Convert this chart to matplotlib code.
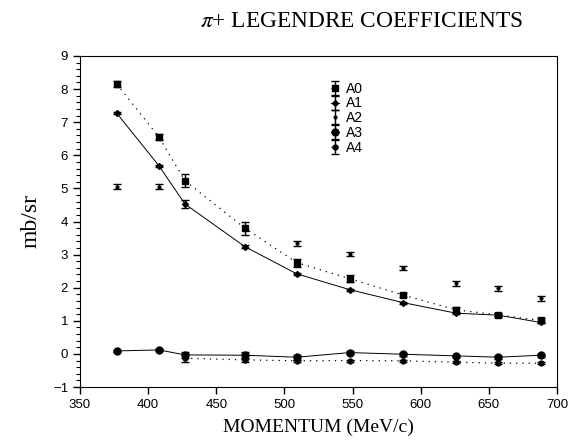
import numpy as np
import matplotlib.pyplot as plt
from matplotlib.ticker import MultipleLocator

# momentum values (MeV/c)
p = [377, 408, 427, 471, 509, 548, 587, 626, 657, 688]
p_a4 = [427, 471, 509, 548, 587, 626, 657, 688]

a0 = [8.15, 6.55, 5.23, 3.80, 2.76, 2.27, 1.78, 1.33, 1.18, 1.01]
a0_err = [0.10, 0.08, 0.20, 0.20, 0.12, 0.10, 0.07, 0.08, 0.06, 0.07]
a1 = [7.27, 5.68, 4.53, 3.24, 2.42, 1.94, 1.55, 1.23, 1.17, 0.95]
a1_err = [0.03, 0.03, 0.12, 0.04, 0.03, 0.03, 0.03, 0.03, 0.03, 0.03]
a2 = [5.05, 5.05, None, None, 3.34, 3.02, 2.60, 2.13, 1.98, 1.68]
a2_err = 0.07
a3 = [0.09, 0.12, -0.03, -0.04, -0.10, 0.04, -0.01, -0.06, -0.10, -0.04]
a3_err = [0.04, 0.04, 0.10, 0.10, 0.08, 0.05, 0.04, 0.04, 0.05, 0.04]
a4 = [-0.13, -0.18, -0.21, -0.20, -0.21, -0.25, -0.28, -0.28]
a4_err = [0.12, 0.06, 0.04, 0.03, 0.03, 0.03, 0.03, 0.03]

fig = plt.figure(figsize=(5.77, 4.43), dpi=100)
ax = fig.add_axes([0.1386, 0.1264, 0.8267, 0.7472])

dots = (0, (1, 4))
k = dict(color='black', ecolor='black', elinewidth=1, capsize=3)
h0 = ax.errorbar(p, a0, yerr=a0_err, fmt='s', ms=5, ls=dots, lw=0.9, **k)
h1 = ax.errorbar(p, a1, yerr=a1_err, fmt='D', ms=3, ls='-', lw=0.7, **k)
p2 = [x for x, y in zip(p, a2) if y is not None]
y2 = [y for y in a2 if y is not None]
h2 = ax.errorbar(p2, y2, yerr=a2_err, fmt='o', ms=2, ls='none', **k)
h3 = ax.errorbar(p, a3, yerr=a3_err, fmt='o', ms=5, ls='-', lw=0.7, **k)
h4 = ax.errorbar(p_a4, a4, yerr=a4_err, fmt='o', ms=3.5, ls=dots, lw=0.9, **k)

leg = ax.legend([h0, h1, h2, h3, h4], ['A0', 'A1', 'A2', 'A3', 'A4'],
                loc='upper left', bbox_to_anchor=(0.5, 0.96), frameon=False,
                handlelength=0.6, handletextpad=0.5, labelspacing=0.05,
                prop={'family': 'Liberation Sans', 'size': 10})

ax.set_xlim(350, 700)
ax.set_ylim(-1, 9)
ax.xaxis.set_major_locator(MultipleLocator(50))
ax.yaxis.set_major_locator(MultipleLocator(1))
ax.yaxis.set_minor_locator(MultipleLocator(0.2))
ax.tick_params(which='major', direction='out', length=5, width=1, labelsize=9.5)
ax.tick_params(which='minor', direction='out', length=3, width=0.8)
for lab in ax.get_xticklabels() + ax.get_yticklabels():
    lab.set_family('Liberation Sans')

ax.set_xlabel('MOMENTUM (MeV/c)', family='Liberation Serif', fontsize=14, labelpad=6)
ax.set_ylabel('mb/sr', family='Liberation Serif', fontsize=17, labelpad=8)

plt.rcParams['mathtext.fontset'] = 'stix'
fig.text(0.626, 0.952, r'$\pi$+ LEGENDRE COEFFICIENTS', ha='center', va='center',
         family='Liberation Serif', fontsize=16.8)

fig.savefig('out.png', dpi=100)
